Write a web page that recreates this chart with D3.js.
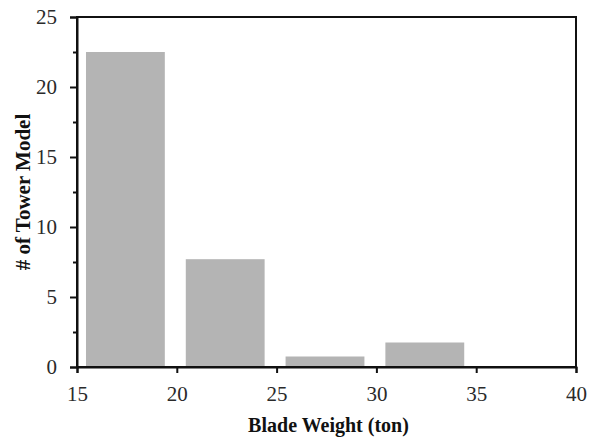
<!DOCTYPE html>
<html><head><meta charset="utf-8">
<script src="https://cdn.jsdelivr.net/npm/d3@7"></script>
<style>body{margin:0;background:#fff}</style>
</head><body>
<svg id="c" width="596" height="439"></svg>
<script>
const binStarts = [15, 20, 25, 30];
const counts = [22.5, 7.7, 0.75, 1.75];
const xTicks = [15, 20, 25, 30, 35, 40];
const yTicks = [0, 5, 10, 15, 20, 25];
const yMinorTicks = [2.5, 7.5, 12.5, 17.5, 22.5];

const svg = d3.select("#c");
const m = {l: 77, r: 20, t: 17, b: 72};
const W = 596, H = 439;
const x = d3.scaleLinear().domain([15, 40]).range([m.l, W - m.r]);
const y = d3.scaleLinear().domain([0, 25]).range([H - m.b, m.t]);
const font = "'Liberation Serif','Times New Roman',serif";

svg.append("g").selectAll("rect").data(binStarts).join("rect")
  .attr("x", (d) => x(d + 0.45))
  .attr("width", (d) => x(d + 4.4) - x(d + 0.45))
  .attr("y", (d, i) => y(counts[i]))
  .attr("height", (d, i) => y(0) - y(counts[i]))
  .attr("fill", "#b4b4b4");

// frame
svg.append("rect").attr("x", x(15)).attr("y", y(25))
  .attr("width", x(40) - x(15)).attr("height", y(0) - y(25))
  .attr("fill", "none").attr("stroke", "#111").attr("stroke-width", 2);

const xa = svg.append("g").attr("transform", `translate(0,${y(0)})`)
  .call(d3.axisBottom(x).tickValues(xTicks).tickSize(6).tickPadding(13).tickFormat(d3.format("d")));
const ya = svg.append("g").attr("transform", `translate(${x(15)},0)`)
  .call(d3.axisLeft(y).tickValues(yTicks).tickSize(7).tickPadding(13).tickFormat(d3.format("d")));
svg.append("g").attr("transform", `translate(${x(15)},0)`)
  .call(d3.axisLeft(y).tickValues(yMinorTicks).tickSize(4).tickFormat(""))
  .call(g => g.select(".domain").remove());

svg.selectAll(".domain").attr("stroke", "#111").attr("stroke-width", 2);
svg.selectAll(".tick line").attr("stroke", "#111").attr("stroke-width", 2);
svg.selectAll(".tick text").attr("font-family", font).attr("font-size", 21).attr("fill", "#2a2a2a");

svg.append("text").attr("x", (x(15) + x(40)) / 2 + 2).attr("y", 432)
  .attr("text-anchor", "middle").attr("font-family", font).attr("font-weight", "bold")
  .attr("font-size", 20).attr("fill", "#111").text("Blade Weight (ton)");
svg.append("text").attr("transform", `translate(30,${(y(0) + y(25)) / 2}) rotate(-90)`)
  .attr("text-anchor", "middle").attr("font-family", font).attr("font-weight", "bold")
  .attr("font-size", 21).attr("fill", "#111").text("# of Tower Model");
</script>
</body></html>
